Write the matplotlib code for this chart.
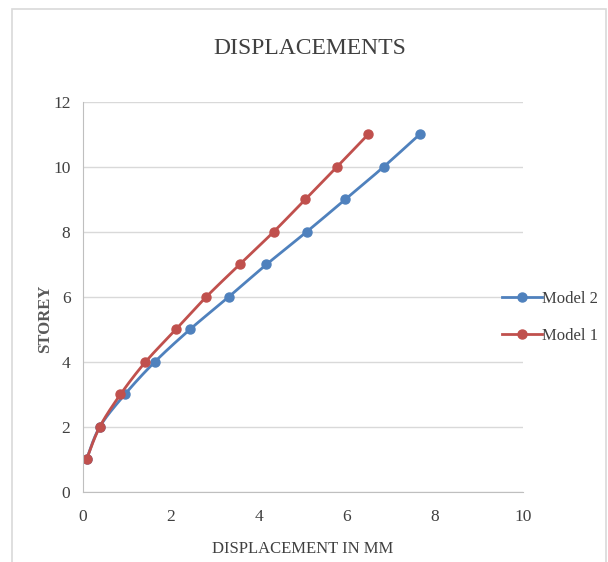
import numpy as np
import matplotlib
matplotlib.use("Agg")
import matplotlib.pyplot as plt
from matplotlib.lines import Line2D
from matplotlib.patches import Rectangle

plt.rcParams['font.family'] = ['Liberation Serif', 'DejaVu Serif']

# data
storey = [1, 2, 3, 4, 5, 6, 7, 8, 9, 10, 11]
model1_disp = [0.08, 0.38, 0.85, 1.42, 2.11, 2.80, 3.56, 4.33, 5.05, 5.77, 6.48]
model2_disp = [0.08, 0.38, 0.95, 1.63, 2.43, 3.31, 4.17, 5.08, 5.96, 6.83, 7.65]

blue = '#4F81BD'
red = '#C0504D'


def smooth(x, y, n=20):
    # catmull-rom curve through the points, like excel "smoothed line"
    x = np.asarray(x, float)
    y = np.asarray(y, float)
    px = np.concatenate([[x[0]], x, [x[-1]]])
    py = np.concatenate([[y[0]], y, [y[-1]]])
    t = np.linspace(0, 1, n)
    xs, ys = [], []
    for i in range(1, len(px) - 2):
        for p, out in ((px, xs), (py, ys)):
            p0, p1, p2, p3 = p[i - 1], p[i], p[i + 1], p[i + 2]
            out.extend(0.5 * (2 * p1 + (-p0 + p2) * t
                              + (2 * p0 - 5 * p1 + 4 * p2 - p3) * t ** 2
                              + (-p0 + 3 * p1 - 3 * p2 + p3) * t ** 3))
    return xs, ys


fig = plt.figure(figsize=(6.08, 5.62), dpi=100)
fig.patches.append(Rectangle((12 / 608, -0.01), 594 / 608, 1 - 9 / 562 + 0.01,
                             transform=fig.transFigure, fill=False,
                             edgecolor='#D9D9D9', linewidth=1.2))

ax = fig.add_axes([0.1365, 0.1246, 0.7237, 0.694])

for disp, col, name in ((model2_disp, blue, 'Model 2'), (model1_disp, red, 'Model 1')):
    sx, sy = smooth(disp, storey)
    ax.plot(sx, sy, color=col, linewidth=2.0, solid_capstyle='round')
    ax.plot(disp, storey, 'o', color=col, markersize=6.5)

ax.set_xlim(0, 10)
ax.set_ylim(0, 12)
ax.set_xticks(range(0, 11, 2))
ax.set_yticks(range(0, 13, 2))
ax.tick_params(length=0, labelsize=12.5, colors='#404040')
ax.tick_params(axis='x', pad=12)
ax.tick_params(axis='y', pad=9)
ax.grid(axis='y', color='#D9D9D9', linewidth=1)
ax.set_axisbelow(True)
for s in ('top', 'right'):
    ax.spines[s].set_visible(False)
for s in ('left', 'bottom'):
    ax.spines[s].set_color('#BFBFBF')

fig.text(310 / 608, 1 - 48 / 562, 'DISPLACEMENTS', fontsize=17, color='#404040',
         ha='center', va='center')
ax.set_xlabel('DISPLACEMENT IN MM', fontsize=12, color='#404040', labelpad=12)
ax.set_ylabel('STOREY', fontsize=12, fontweight='bold', color='#595959')
ax.yaxis.set_label_coords(-0.068, 0.444)

handles = [Line2D([], [], color=blue, linewidth=2.0, marker='o', markersize=6.5),
           Line2D([], [], color=red, linewidth=2.0, marker='o', markersize=6.5)]
fig.legend(handles, ['Model 2', 'Model 1'], loc='center left',
           bbox_to_anchor=(0.825, 0.435), frameon=False, fontsize=12,
           handlelength=2.4, handletextpad=0.05, labelspacing=1.25,
           labelcolor='#404040', borderaxespad=0, borderpad=0)

fig.savefig('out.png', dpi=100)
